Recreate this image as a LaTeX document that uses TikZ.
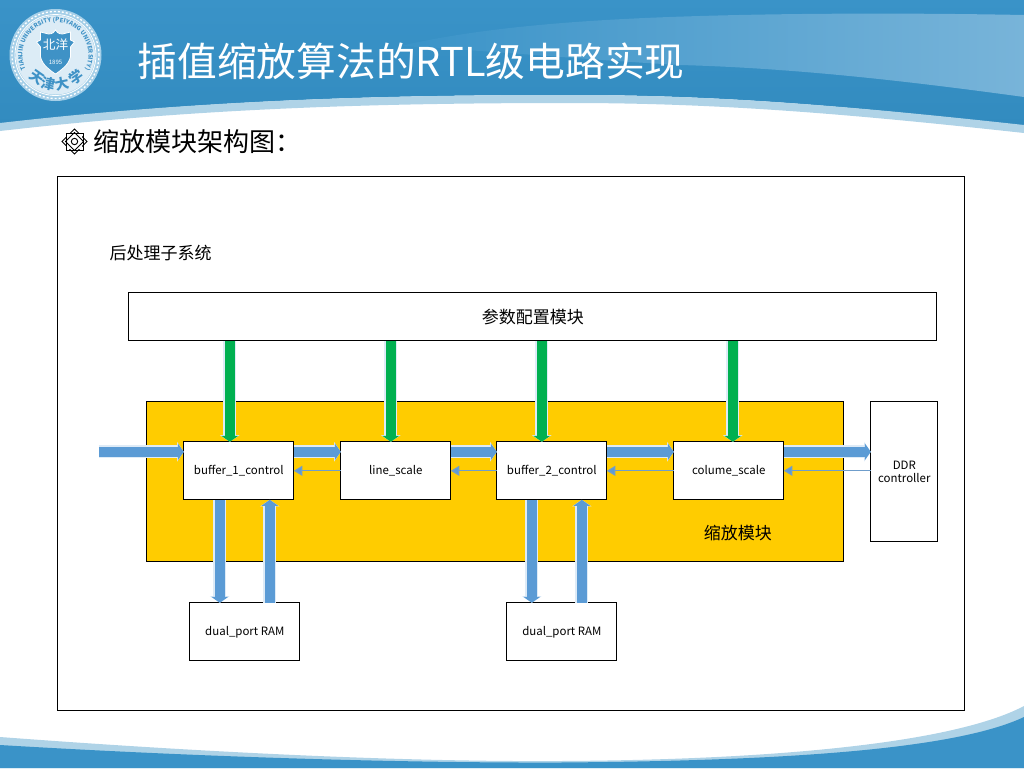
\documentclass[tikz,border=0pt]{standalone}
\usepackage{fontspec}
\setmainfont{Noto Sans CJK SC}
\usetikzlibrary{arrows.meta,decorations.text,calc}
\definecolor{hdr}{HTML}{3A93C8}
\definecolor{hdrlo}{HTML}{328BBF}
\definecolor{band}{HTML}{AFD3E7}
\definecolor{sheen}{HTML}{78B4D9}
\definecolor{logoblue}{HTML}{3F92C6}
\definecolor{ringc}{HTML}{A5CFE8}
\definecolor{discc}{HTML}{DCECF6}
\definecolor{yel}{HTML}{FFCC00}
\definecolor{grn}{HTML}{00B050}
\definecolor{arr}{HTML}{5B9BD5}
\definecolor{halo}{HTML}{DEEBF7}
\definecolor{thinc}{HTML}{6F9DCB}
\newcommand{\lowr}[1]{\raisebox{-1.2pt}{#1}}
\tikzset{
  blk/.style={draw=black,fill=white,line width=.75pt,inner sep=0pt,outer sep=0pt,align=center,font=\fontsize{8.6}{10}\selectfont},
  lab/.style={inner sep=0pt,font=\fontsize{12.75}{15}\selectfont},
  fatline/.style={line width=7.5pt,draw=#1,-{Triangle[length=4.5pt,width=12.5pt,fill=#1]},
     preaction={draw=halo,line width=9.5pt,-{Triangle[length=5pt,width=14.5pt,fill=halo]}}},
  thinline/.style={line width=1pt,draw=thinc,-{Triangle[length=6.5pt,width=7.5pt,fill=arr]}},
}
\begin{document}
\begin{tikzpicture}[x=.75pt,y=-.75pt]
\useasboundingbox (0,0) rectangle (1024,768);
% header
\shade[top color=hdr,bottom color=hdrlo,draw=none] (0,0) -- (1024,0) -- (1024,126) .. controls (850,106) and (720,95) .. (570,95) .. controls (380,95) and (200,100) .. (0,124) -- cycle;
\fill[band] (0,123) .. controls (200,100) and (380,95) .. (570,95) .. controls (720,95) and (850,106) .. (1024,125) -- (1024,133) .. controls (850,114) and (720,103) .. (570,103) .. controls (380,103) and (200,108) .. (0,131) -- cycle;
\shade[left color=hdr,right color=sheen,draw=none] (400,46) .. controls (470,30) and (560,20) .. (700,16) .. controls (800,13) and (920,13) .. (1024,15) -- (1024,97) .. controls (900,80) and (790,68) .. (680,65) .. controls (590,60) and (480,50) .. (400,46) -- cycle;
% footer
\fill[band] (0,737) .. controls (200,752) and (400,762) .. (560,761) .. controls (760,760) and (950,745) .. (1024,706) -- (1024,768) -- (0,768) -- cycle;
\fill[hdr] (0,745) .. controls (200,757) and (400,763) .. (560,762.5) .. controls (760,761) and (950,752) .. (1024,717) -- (1024,768) -- (0,768) -- cycle;
% logo
\begin{scope}[shift={(55.5,55)},y=.75pt]
  \fill[ringc] (0,0) circle[radius=46];
  \draw[white,line width=1pt,dash pattern=on 1.5pt off 1.5pt] (0,0) circle[radius=43.5];
  \draw[white,line width=.6pt] (0,0) circle[radius=40.5];
  \fill[discc] (0,0) circle[radius=39.5];
  \path[decorate,decoration={text along path,text align=center,
     text={|\fontsize{4.5}{5}\selectfont\bfseries\color{logoblue}|TIANJIN UNIVERSITY (PEIYANG UNIVERSITY)}}]
     (218:33) arc[start angle=218,end angle=-38,radius=33];
  \fill[logoblue,draw=white,line width=.6pt] (-15,23) -- (-7,21) .. controls (-3,21) and (-1,23) .. (0,25) .. controls (1,23) and (3,21) .. (7,21) -- (15,23) -- (15,15) -- (19,13) -- (15,8) -- (15,-2) .. controls (13,-10) and (6,-15) .. (0,-19) .. controls (-6,-15) and (-13,-10) .. (-15,-2) -- (-15,8) -- (-19,13) -- (-15,15) -- cycle;
  \node[white,inner sep=0pt,font=\fontsize{9.5}{10}\selectfont] (seal) at (0,10) {北洋};
  \node[white,inner sep=0pt,font=\fontsize{4.5}{5}\selectfont] (year) at (0,-7.5) {1895};
  \node[logoblue,inner sep=0pt,rotate=-35,font=\fontsize{10.5}{11}\selectfont\bfseries] (t1) at (-18.5,-22) {天};
  \node[logoblue,inner sep=0pt,rotate=-12,font=\fontsize{10.5}{11}\selectfont\bfseries] (t2) at (-7,-28.5) {津};
  \node[logoblue,inner sep=0pt,rotate=12,font=\fontsize{10.5}{11}\selectfont\bfseries] (t3) at (7,-28.5) {大};
  \node[logoblue,inner sep=0pt,rotate=35,font=\fontsize{10.5}{11}\selectfont\bfseries] (t4) at (21,-22) {学};
\end{scope}
% titles
\node[anchor=west,inner sep=0pt,white,font=\fontsize{29.8}{34}\selectfont] (title) at (137.5,61) {插值缩放算法的RTL级电路实现};
\node[anchor=west,inner sep=0pt,font=\fontsize{19.5}{23}\selectfont] (sub) at (93,142) {缩放模块架构图：};
% bullet
\begin{scope}[shift={(74.5,141.5)}]
  \draw[black,line width=.7pt] (-12.5,0) -- (0,-12.5) -- (12.5,0) -- (0,12.5) -- cycle;
  \draw[black,line width=.7pt] (-8.5,-8.5) rectangle (8.5,8.5);
  \fill[white] (-7.5,-7.5) rectangle (7.5,7.5);
  \draw[black,line width=.7pt] (-9,0) -- (0,-9) -- (9,0) -- (0,9) -- cycle;
  \draw[black,line width=.7pt] (0,0) circle[radius=3.2];
\end{scope}
\begin{scope}[shift={(-.2,-.2)}]
% frame
\node[draw=black,line width=.75pt,fill=white,minimum width=680.25pt,minimum height=400.5pt,inner sep=0pt,outer sep=0pt] (frame) at (511.5,444) {};
\node[lab,anchor=west] (sys) at (109.5,253.5) {后处理子系统};
\node[blk,font=\fontsize{12.75}{15}\selectfont,minimum width=606pt,minimum height=36pt] (cfg) at (533,317) {\lowr{参数配置模块}};
\node[draw=black,fill=yel,line width=.75pt,minimum width=522.75pt,minimum height=120pt,inner sep=0pt,outer sep=0pt] (yb) at (495.5,482) {};
\node[lab] (ybl) at (738,533.5) {缩放模块};
\node[blk,minimum width=82.5pt,minimum height=43.5pt] (b1) at (239,471) {\lowr{buffer\_1\_control}};
\node[blk,minimum width=82.5pt,minimum height=43.5pt] (ls) at (396,471) {\lowr{line\_scale}};
\node[blk,minimum width=82.5pt,minimum height=43.5pt] (b2) at (552,471) {\lowr{buffer\_2\_control}};
\node[blk,minimum width=82.5pt,minimum height=43.5pt] (cs) at (729,471) {\lowr{colume\_scale}};
\node[blk,minimum width=50.25pt,minimum height=105pt] (ddr) at (904.5,472) {DDR\\controller};
\node[blk,minimum width=82.5pt,minimum height=43.5pt] (r1) at (245,632) {\lowr{dual\_port RAM}};
\node[blk,minimum width=82.5pt,minimum height=43.5pt] (r2) at (562,632) {\lowr{dual\_port RAM}};
% reference coordinates for connector rows and columns
\coordinate (g1) at (230,0); \coordinate (g2) at (391,0); \coordinate (g3) at (542,0); \coordinate (g4) at (733,0);
\coordinate (fy) at (0,452); \coordinate (ty) at (0,471);
\coordinate (inp) at (99,452);
\coordinate (d1) at (220,0); \coordinate (u1) at (270,0); \coordinate (d2) at (532,0); \coordinate (u2) at (582,0);
% green
\draw[fatline=grn] (g1 |- cfg.south) -- (g1 |- b1.north);
\draw[fatline=grn] (g2 |- cfg.south) -- (g2 |- ls.north);
\draw[fatline=grn] (g3 |- cfg.south) -- (g3 |- b2.north);
\draw[fatline=grn] (g4 |- cfg.south) -- (g4 |- cs.north);
% horizontal fat
\draw[fatline=arr] (inp) -- (b1.west |- fy);
\draw[fatline=arr] (b1.east |- fy) -- (ls.west |- fy);
\draw[fatline=arr] (ls.east |- fy) -- (b2.west |- fy);
\draw[fatline=arr] (b2.east |- fy) -- (cs.west |- fy);
\draw[fatline=arr] (cs.east |- fy) -- (ddr.west |- fy);
% thin back
\draw[thinline] (ls.west |- ty) -- (b1.east |- ty);
\draw[thinline] (b2.west |- ty) -- (ls.east |- ty);
\draw[thinline] (cs.west |- ty) -- (b2.east |- ty);
\draw[thinline] (ddr.west |- ty) -- (cs.east |- ty);
% vertical fat
\draw[fatline=arr] (d1 |- b1.south) -- (d1 |- r1.north);
\draw[fatline=arr] (u1 |- r1.north) -- (u1 |- b1.south);
\draw[fatline=arr] (d2 |- b2.south) -- (d2 |- r2.north);
\draw[fatline=arr] (u2 |- r2.north) -- (u2 |- b2.south);
\end{scope}
\end{tikzpicture}
\end{document}
